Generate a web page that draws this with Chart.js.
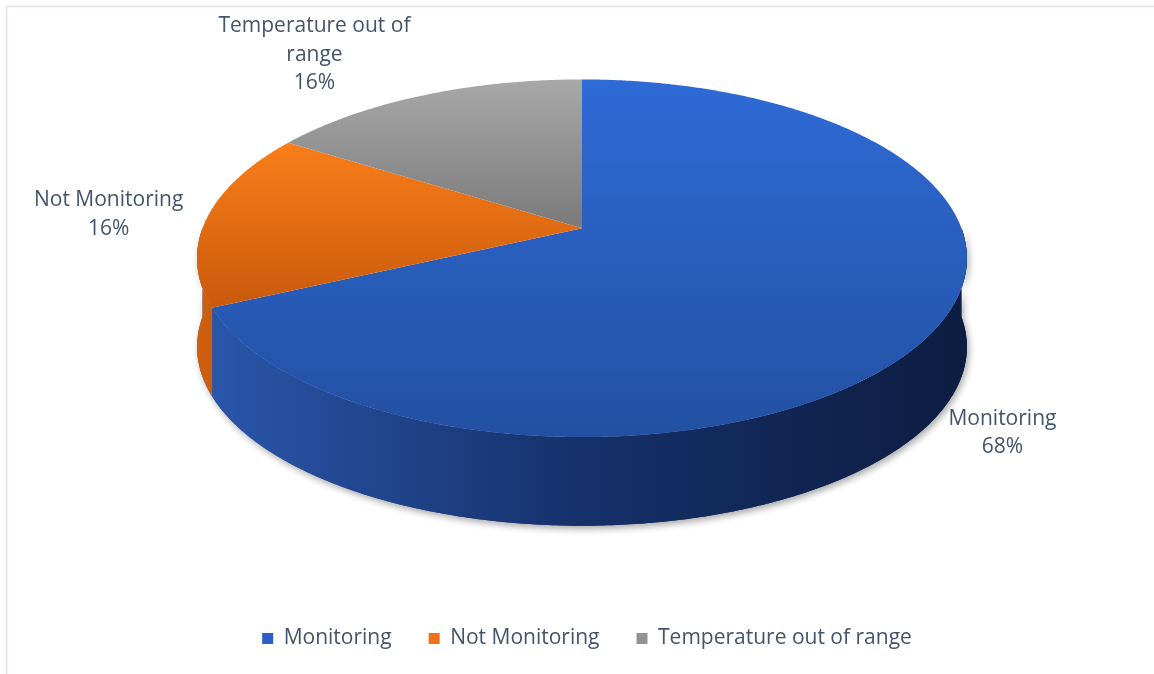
<!DOCTYPE html>
<html>
<head>
<meta charset="utf-8">
<script src="https://cdn.jsdelivr.net/npm/chart.js@4.4.1/dist/chart.umd.min.js"></script>
<style>
  html, body { margin: 0; padding: 0; background: #fff; overflow: hidden; }
</style>
</head>
<body>
<canvas id="grafico" width="1154" height="674"></canvas>
<script>
// dados do grafico
const categorias = ['Monitoring', 'Not Monitoring', 'Temperature out of range'];
const valores = [68, 16, 16];

// cores (legenda, topo e lateral de cada fatia)
const coresBase = ['#2b5fc6', '#ee7017', '#939393'];
const coresTopo = [['#2e6bd6', '#2350a2'], ['#f97e19', '#c9590c'], ['#a8a8a8', '#7a7a7a']];
const coresLado = [['#2b58ad', '#16306a', '#0d1d41'], ['#cf5f0f', '#a04808', '#7a3505'], ['#8a8a8a', '#666', '#444']];

function vista(chart, o) {
  const arc = chart.getDatasetMeta(0).data[0];
  const R = arc.outerRadius;
  return {
    cx: arc.x + o.deslocX * R,
    cy: arc.y - o.elevar * R,
    A: o.raioX * R,
    B: o.raioY * R,
    p: o.perspectiva,
    h: o.altura * R
  };
}

// projeta um ponto do disco (angulo, raio) na tela com um pouco de perspectiva
function projetar(v, ang, r, dz) {
  const u = r * Math.cos(ang);
  const w = r * Math.sin(ang);
  const den = 1 - v.p * w;
  return [v.cx + v.A * u / den, v.cy + v.B * w / den + dz];
}

function caminhoTopo(ctx, v, a0, a1) {
  const pts = [projetar(v, a0, 0, 0)];
  const n = Math.max(2, Math.ceil((a1 - a0) / 0.01));
  for (let i = 0; i <= n; i++) {
    pts.push(projetar(v, a0 + (a1 - a0) * i / n, 1, 0));
  }
  ctx.beginPath();
  ctx.moveTo(pts[0][0], pts[0][1]);
  for (let i = 1; i < pts.length; i++) ctx.lineTo(pts[i][0], pts[i][1]);
  ctx.closePath();
  let yMin = Infinity, yMax = -Infinity;
  pts.forEach(p => { yMin = Math.min(yMin, p[1]); yMax = Math.max(yMax, p[1]); });
  return [yMin, yMax];
}

function caminhoLado(ctx, v, a0, a1) {
  const n = Math.max(2, Math.ceil((a1 - a0) / 0.01));
  ctx.beginPath();
  for (let i = 0; i <= n; i++) {
    const p = projetar(v, a0 + (a1 - a0) * i / n, 1, 0);
    if (i === 0) ctx.moveTo(p[0], p[1]); else ctx.lineTo(p[0], p[1]);
  }
  for (let i = n; i >= 0; i--) {
    const p = projetar(v, a0 + (a1 - a0) * i / n, 1, v.h);
    ctx.lineTo(p[0], p[1]);
  }
  ctx.closePath();
}

function gradLado(ctx, v, cores) {
  const g = ctx.createLinearGradient(v.cx - v.A * 1.02, 0, v.cx + v.A * 1.02, 0);
  g.addColorStop(0, cores[0]);
  g.addColorStop(0.5, cores[1]);
  g.addColorStop(1, cores[2]);
  return g;
}

function quebrar(ctx, texto, largura) {
  const palavras = texto.split(' ');
  const linhas = [];
  let atual = '';
  palavras.forEach(p => {
    const teste = atual ? atual + ' ' + p : p;
    if (atual && ctx.measureText(teste).width > largura) {
      linhas.push(atual);
      atual = p;
    } else {
      atual = teste;
    }
  });
  if (atual) linhas.push(atual);
  return linhas;
}

const pizza3d = {
  id: 'pizza3d',
  beforeDraw(chart) {
    // moldura clara (so topo e esquerda aparecem no recorte)
    const ctx = chart.ctx;
    ctx.save();
    ctx.strokeStyle = '#dfe4ea';
    ctx.lineWidth = 1.5;
    ctx.beginPath();
    ctx.moveTo(6.5, chart.height);
    ctx.lineTo(6.5, 6.5);
    ctx.lineTo(chart.width, 6.5);
    ctx.stroke();
    ctx.restore();
  },
  beforeDatasetsDraw(chart, args, o) {
    const arcs = chart.getDatasetMeta(0).data;
    if (!arcs.length) return;
    const v = vista(chart, o);
    const ctx = chart.ctx;
    ctx.save();

    // sombra da parede frontal
    ctx.save();
    ctx.shadowColor = 'rgba(0,0,0,0.35)';
    ctx.shadowBlur = 7;
    ctx.shadowOffsetX = 2;
    ctx.shadowOffsetY = 3;
    caminhoLado(ctx, v, 0, Math.PI);
    ctx.fillStyle = gradLado(ctx, v, coresLado[0]);
    ctx.fill();
    ctx.restore();

    // paredes laterais visiveis (metade da frente)
    arcs.forEach((arc, i) => {
      [-2 * Math.PI, 0, 2 * Math.PI].forEach(k => {
        const a0 = Math.max(arc.startAngle, k);
        const a1 = Math.min(arc.endAngle, k + Math.PI);
        if (a1 > a0) {
          caminhoLado(ctx, v, a0, a1);
          ctx.fillStyle = gradLado(ctx, v, coresLado[i]);
          ctx.fill();
        }
      });
    });

    // topo das fatias
    arcs.forEach((arc, i) => {
      const lim = caminhoTopo(ctx, v, arc.startAngle, arc.endAngle);
      const g = ctx.createLinearGradient(0, lim[0], 0, lim[1]);
      g.addColorStop(0, coresTopo[i][0]);
      g.addColorStop(1, coresTopo[i][1]);
      ctx.fillStyle = g;
      ctx.fill();
    });

    ctx.restore();
    return false;
  },
  afterDraw(chart, args, o) {
    const arcs = chart.getDatasetMeta(0).data;
    if (!arcs.length) return;
    const v = vista(chart, o);
    const ctx = chart.ctx;
    const total = valores.reduce((a, b) => a + b, 0);
    ctx.save();
    ctx.font = o.fonte.size + 'px ' + o.fonte.family;
    ctx.fillStyle = o.corTexto;
    ctx.textAlign = 'center';
    ctx.textBaseline = 'middle';
    arcs.forEach((arc, i) => {
      const meio = (arc.startAngle + arc.endAngle) / 2;
      let x = v.cx + v.A * o.distRotulo * Math.cos(meio);
      let y = v.cy + v.B * o.distRotulo * Math.sin(meio);
      if (Math.sin(meio) > 0) y += v.h;
      const aj = o.ajustes[i] || [0, 0];
      x += aj[0];
      y += aj[1];
      const linhas = quebrar(ctx, chart.data.labels[i], o.larguraMax);
      linhas.push(Math.round(valores[i] / total * 100) + '%');
      linhas.forEach((t, k) => {
        ctx.fillText(t, x, y + (k - (linhas.length - 1) / 2) * o.alturaLinha);
      });
    });
    ctx.restore();
  }
};

const config = {
  type: 'pie',
  data: {
    labels: categorias,
    datasets: [{
      data: valores,
      backgroundColor: coresBase,
      borderWidth: 0
    }]
  },
  options: {
    responsive: false,
    animation: false,
    devicePixelRatio: 1,
    events: [],
    layout: { padding: { left: 20, right: 0, top: 0, bottom: 15 } },
    plugins: {
      tooltip: { enabled: false },
      legend: {
        position: 'bottom',
        labels: {
          boxWidth: 11,
          boxHeight: 11,
          padding: 37,
          color: '#44546a',
          font: { family: "'Open Sans'", size: 21 }
        }
      },
      pizza3d: {
        deslocX: -0.017,
        raioX: 1.284,
        raioY: 0.588,
        elevar: 0.228,
        perspectiva: 0.1685,
        altura: 0.30,
        distRotulo: 1.25,
        larguraMax: 200,
        alturaLinha: 28.5,
        ajustes: [[20, 0], [0, 0], [-39, 17]],
        corTexto: '#44546a',
        fonte: { family: "'Open Sans'", size: 21 }
      }
    }
  },
  plugins: [pizza3d]
};

let meuGrafico = new Chart(document.getElementById('grafico'), config);
</script>
</body>
</html>
